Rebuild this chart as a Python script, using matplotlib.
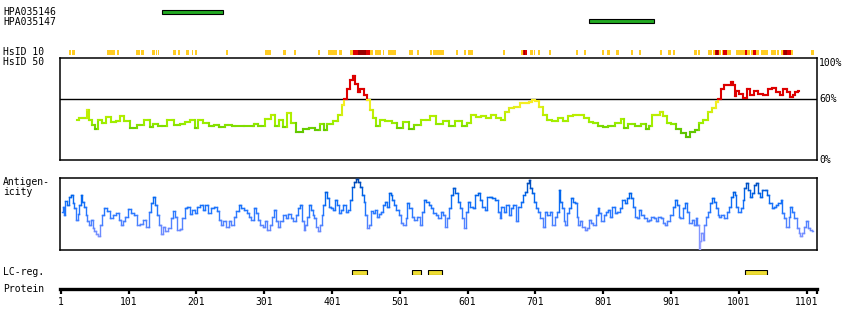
import numpy as np
import matplotlib
matplotlib.use('Agg')
import matplotlib.pyplot as plt
from matplotlib.collections import LineCollection
from matplotlib.colors import LinearSegmentedColormap, Normalize

plt.rcParams['font.family'] = ['DejaVu Sans Mono']
plt.rcParams['font.size'] = 7

# Longitud de la proteína y marcas del eje
largo_proteina = 1116
ticks_proteina = [1, 101, 201, 301, 401, 501, 601, 701, 801, 901, 1001, 1101]

# Anticuerpos (inicio, fin)
anticuerpos = ['HPA035146', 'HPA035147']
ab_inicio = [150, 780]
ab_fin = [240, 876]

# HsID 10: tramos (inicio, fin, nivel) 1 = amarillo, 2 = rojo, 3 = rojo oscuro
hsid10_tramos = [
    (13, 16, 1), (18, 22, 1), (69, 81, 1), (84, 87, 1), (112, 118, 1), (119, 124, 1),
    (136, 140, 1), (141, 143, 1), (144, 146, 1), (167, 171, 1), (174, 177, 1),
    (186, 190, 1), (194, 196, 1), (199, 202, 1), (245, 247, 1), (302, 311, 1),
    (329, 333, 1), (345, 348, 1), (380, 384, 1), (395, 409, 1), (411, 416, 1),
    (428, 432, 1), (432, 440, 2), (440, 451, 3), (451, 457, 2), (457, 462, 1),
    (465, 473, 1), (476, 478, 1), (484, 492, 1), (493, 496, 1), (515, 520, 1),
    (527, 529, 1), (546, 549, 1), (550, 566, 1), (584, 587, 1), (596, 599, 1),
    (601, 609, 1), (653, 656, 1), (679, 682, 1), (682, 684, 2), (684, 686, 3),
    (686, 688, 2), (688, 689, 1), (693, 698, 1), (699, 701, 1), (704, 708, 1),
    (721, 724, 1), (760, 764, 1), (773, 776, 1), (799, 802, 1), (807, 811, 1),
    (819, 824, 1), (842, 845, 1), (854, 857, 1), (884, 887, 1), (897, 901, 1),
    (904, 907, 1), (934, 939, 1), (940, 943, 1), (956, 961, 1), (962, 965, 1),
    (965, 967, 2), (967, 970, 3), (970, 972, 2), (972, 974, 1), (976, 978, 1),
    (978, 983, 2), (983, 989, 1), (996, 1010, 1), (1010, 1013, 2), (1013, 1017, 1),
    (1019, 1022, 1), (1022, 1026, 2), (1026, 1031, 1), (1034, 1044, 1),
    (1048, 1055, 1), (1057, 1060, 1), (1063, 1066, 1), (1066, 1068, 2),
    (1068, 1072, 3), (1072, 1077, 2), (1077, 1080, 1), (1107, 1111, 1),
]
colores_hsid10 = {1: '#ffcc22', 2: '#dd0000', 3: '#990000'}

# HsID 50: identidad (%) a lo largo de la secuencia
hsid50_pos = [25, 32, 39, 40, 42, 44, 51, 53, 59, 64, 71, 79, 86, 91, 98, 108, 118,
              130, 135, 140, 150, 165, 172, 182, 187, 195, 202, 206, 216, 224, 231,
              238, 248, 258, 285, 288, 297, 307, 315, 320, 326, 332, 338, 343, 352,
              364, 371, 381, 387, 390, 398, 408, 413, 418, 420, 425, 430, 434, 437,
              441, 445, 450, 454, 459, 464, 469, 474, 484, 494, 501, 509, 519, 526,
              539, 551, 558, 570, 577, 588, 597, 602, 610, 617, 624, 632, 639, 647,
              654, 659, 666, 674, 681, 689, 693, 698, 703, 708, 716, 720, 730, 738,
              745, 752, 760, 769, 777, 782, 789, 796, 804, 813, 823, 831, 833, 843,
              853, 861, 866, 870, 875, 882, 887, 892, 897, 905, 912, 919, 926, 932,
              939, 944, 951, 959, 964, 969, 972, 976, 981, 986, 991, 993, 996, 998,
              1005, 1010, 1015, 1020, 1027, 1032, 1040, 1047, 1053, 1059, 1064, 1069,
              1074, 1079, 1081, 1086, 1089]
hsid50_val = [39, 41, 41, 49, 49, 39, 34, 30, 39, 36, 42, 37, 38, 43, 38, 31, 34,
              39, 32, 35, 33, 39, 34, 35, 37, 39, 31, 39, 36, 33, 34,
              32, 34, 33, 33, 35, 33, 40, 44, 33, 39, 32, 46, 36, 27,
              30, 31, 29, 35, 29, 35, 38, 44, 54, 60, 70, 78, 82, 75,
              67, 70, 64, 59, 49, 41, 33, 39, 38, 36, 31, 37, 30, 34,
              39, 43, 35, 38, 33, 38, 33, 36, 44, 42, 43, 41, 44, 41,
              39, 47, 51, 52, 56, 56, 57, 59, 58, 52, 44, 39, 38, 41,
              38, 43, 44, 44, 41, 37, 36, 33, 32, 33, 36, 40, 31, 35,
              33, 35, 30, 33, 44, 44, 47, 43, 36, 35, 30, 26, 23, 27,
              29, 36, 39, 47, 51, 57, 60, 70, 74, 74, 76, 74, 63, 68,
              65, 61, 70, 64, 68, 65, 64, 70, 71, 67, 64, 70,
              67, 62, 64, 67, 68]

# Antigenicidad (escala relativa 0-100)
antig_pos = [3, 5, 6, 10, 12, 15, 17, 20, 22, 25, 27, 30, 32, 34, 37, 39, 42, 44, 47,
             49, 52, 55, 58, 60, 64, 67, 71, 75, 80, 85, 88, 91, 95, 98, 102, 106, 111,
             116, 121, 125, 130, 133, 135, 139, 141, 144, 148, 150, 154, 157, 161, 165,
             167, 171, 175, 178, 182, 186, 189, 193, 197, 200, 204, 209, 213, 216, 220,
             224, 229, 233, 236, 239, 243, 247, 251, 254, 258, 262, 265, 269, 273, 277,
             280, 284, 287, 290, 294, 297, 301, 304, 307, 311, 315, 317, 320, 323, 327,
             331, 334, 338, 342, 346, 349, 353, 355, 358, 360, 362, 366, 369, 371, 374,
             376, 378, 382, 385, 387, 389, 392, 395, 398, 401, 404, 407, 411, 413, 415,
             419, 423, 425, 429, 433, 435, 438, 441, 444, 446, 449, 451, 455, 457, 461,
             463, 467, 469, 472, 475, 478, 481, 484, 486, 489, 491, 494, 498, 501, 504,
             508, 511, 513, 517, 521, 524, 528, 532, 535, 538, 542, 545, 549, 552, 556,
             559, 563, 566, 570, 572, 575, 578, 581, 585, 588, 591, 595, 596, 600, 603,
             607, 611, 614, 618, 621, 624, 628, 632, 636, 639, 643, 647, 649, 652, 656,
             660, 664, 667, 670, 674, 677, 681, 683, 687, 690, 692, 694, 698, 700, 703,
             706, 710, 713, 716, 720, 724, 728, 731, 734, 736, 739, 741, 744, 746, 749,
             752, 755, 757, 760, 763, 765, 768, 772, 775, 779, 781, 784, 788, 791, 794,
             796, 800, 803, 806, 810, 813, 816, 820, 823, 827, 831, 834, 837, 841, 843,
             846, 848, 852, 855, 859, 863, 867, 870, 874, 877, 880, 884, 887, 890, 893,
             897, 901, 905, 908, 911, 913, 916, 920, 923, 926, 930, 933, 936, 938, 941,
             943, 945, 946, 949, 951, 954, 957, 960, 963, 966, 968, 971, 973, 977, 981,
             985, 988, 991, 993, 996, 998, 1002, 1005, 1008, 1010, 1013, 1015, 1018,
             1021, 1025, 1027, 1030, 1034, 1037, 1041, 1044, 1047, 1051, 1054, 1057,
             1061, 1064, 1066, 1069, 1073, 1075, 1078, 1081, 1084, 1088, 1090, 1093,
             1096, 1099, 1101, 1104, 1108, 1110]
antig_val = [53, 60, 49, 68, 63, 74, 77, 65, 58, 42, 50, 62, 77, 67, 60, 49, 40, 35, 42,
             30, 26, 22, 20, 35, 49, 58, 54, 45, 49, 52, 42, 35, 40, 46, 57, 51, 49,
             35, 36, 42, 32, 53, 65, 73, 62, 49, 35, 22, 32, 26, 30, 44,
             54, 46, 28, 29, 44, 58, 60, 50, 56, 51, 60, 62, 56, 63, 51,
             59, 60, 54, 42, 35, 40, 32, 40, 35, 46, 54, 62, 58, 56, 51,
             46, 42, 58, 51, 42, 35, 32, 40, 28, 35, 46, 55, 40, 32, 40,
             49, 45, 50, 44, 40, 49, 58, 63, 40, 28, 35, 46, 62, 56, 49,
             44, 32, 26, 35, 49, 62, 81, 72, 60, 58, 56, 69, 62, 51, 56,
             62, 53, 56, 69, 88, 95, 99, 95, 88, 76, 67, 49, 30, 35, 54,
             51, 56, 46, 50, 53, 62, 67, 60, 79, 76, 69, 62, 56, 49, 37,
             35, 44, 65, 58, 46, 42, 46, 35, 53, 69, 67, 62, 58, 51, 49,
             44, 53, 49, 32, 44, 58, 76, 86, 79, 67, 58, 44, 30, 53, 67,
             60, 58, 76, 79, 69, 60, 56, 74, 74, 72, 69, 53, 44, 60, 53,
             62, 49, 58, 62, 40, 60, 67, 76, 81, 93, 97, 86, 79, 67, 58,
             53, 44, 32, 53, 49, 53, 35, 46, 53, 83, 67, 58, 40, 35, 51,
             58, 72, 67, 65, 46, 35, 40, 32, 28, 30, 42, 37, 35, 49, 58,
             51, 40, 49, 53, 56, 46, 60, 51, 53, 58, 69, 65, 72, 79, 72,
             60, 46, 44, 56, 49, 44, 40, 42, 46, 44, 40, 46, 44, 37, 35,
             40, 49, 60, 69, 62, 46, 44, 58, 65, 53, 37, 42, 35, 45, 35,
             0, 12, 23, 14, 35, 46, 53, 65, 72, 67, 58, 49, 46, 49, 44,
             53, 60, 74, 81, 76, 60, 53, 58, 69, 86, 93, 83, 74,
             79, 90, 93, 79, 74, 83, 83, 76, 65, 58, 60, 62,
             65, 69, 51, 44, 32, 46, 60, 53, 44, 30, 23, 19,
             23, 32, 40, 30, 28, 26]

# Regiones de baja complejidad (inicio, fin)
lc_inicio = [431, 519, 543, 1010]
lc_fin = [453, 532, 563, 1043]

fig = plt.figure(figsize=(8.5, 3.3), dpi=100)


def eje(arriba, abajo):
    # crea un eje alineado con la proteína entre dos alturas en píxeles
    ax = fig.add_axes([60 / 850, 1 - abajo / 330, 757 / 850, (abajo - arriba) / 330])
    ax.set_xlim(0, largo_proteina)
    return ax


def sin_marco(ax):
    for s in ax.spines.values():
        s.set_visible(False)
    ax.set_xticks([])
    ax.set_yticks([])


def linea_escalones(ax, x, y, cmap, norm, lw):
    # línea en escalones (tipo steps-mid) coloreada según el valor
    segs, vals = [], []
    for i in range(len(x) - 1):
        xm = (x[i] + x[i + 1]) / 2
        segs += [[(x[i], y[i]), (xm, y[i])],
                 [(xm, y[i]), (xm, y[i + 1])],
                 [(xm, y[i + 1]), (x[i + 1], y[i + 1])]]
        vals += [y[i], (y[i] + y[i + 1]) / 2, y[i + 1]]
    lc = LineCollection(segs, colors=cmap(norm(np.array(vals))), linewidths=lw,
                        capstyle='projecting', zorder=3)
    ax.add_collection(lc)


# Anticuerpos
ax_ab = eje(7.5, 25.5)
ax_ab.set_ylim(1.5, -0.5)
ax_ab.barh(range(len(anticuerpos)), np.array(ab_fin) - np.array(ab_inicio), left=ab_inicio,
           height=0.45, color='#22aa22', edgecolor='black', linewidth=0.8)
sin_marco(ax_ab)

# HsID 10
ax_h10 = eje(50, 55)
ax_h10.set_ylim(0, 1)
for ini, fin, nivel in hsid10_tramos:
    ax_h10.broken_barh([(ini, fin - ini)], (0, 1), facecolors=colores_hsid10[nivel])
sin_marco(ax_h10)

# HsID 50
ax_h50 = eje(58, 160)
ax_h50.set_ylim(0, 100)
ax_h50.axhline(60, color='black', lw=1, zorder=2)
verdes = LinearSegmentedColormap.from_list('hsid', [
    (0.0, '#55bb00'), (0.25, '#66cc00'), (0.4, '#99ee00'), (0.6, '#bbee00'),
    (0.85, '#eeee22'), (0.999, '#ffee22'), (1.0, '#dd0000')])
linea_escalones(ax_h50, hsid50_pos, hsid50_val, verdes, Normalize(20, 60, clip=True), 1.5)
ax_h50.set_xticks([])
ax_h50.set_yticks([])
for s in ax_h50.spines.values():
    s.set_linewidth(1.1)
yt = ax_h50.get_yaxis_transform()
ax_h50.text(1.003, 100, '100%', transform=yt, va='top', ha='left')
ax_h50.text(1.003, 60, '60%', transform=yt, va='center', ha='left')
ax_h50.text(1.003, 0, '0%', transform=yt, va='center', ha='left')

# Antigenicidad
ax_ag = eje(178, 250)
ax_ag.set_ylim(0, 100)
azules = LinearSegmentedColormap.from_list('antig', [
    (0.0, '#aaaaff'), (0.3, '#6688ff'), (0.55, '#2277ff'), (0.75, '#0066ee'), (1.0, '#0044aa')])
linea_escalones(ax_ag, antig_pos, antig_val, azules, Normalize(0, 100), 1.0)
ax_ag.set_xticks([])
ax_ag.set_yticks([])
for s in ax_ag.spines.values():
    s.set_linewidth(1.1)

# Regiones LC
ax_lc = eje(270, 275)
ax_lc.set_ylim(0, 1)
ax_lc.barh([0.5] * len(lc_inicio), np.array(lc_fin) - np.array(lc_inicio), left=lc_inicio,
           height=0.85, color='#eedd33', edgecolor='black', linewidth=0.8)
sin_marco(ax_lc)

# Eje de la proteína
ax_p = eje(286, 289)
for lado in ['top', 'left', 'right']:
    ax_p.spines[lado].set_visible(False)
ax_p.spines['bottom'].set_linewidth(2.4)
ax_p.set_yticks([])
ax_p.set_xticks(ticks_proteina)
ax_p.set_xticks([largo_proteina], minor=True)
ax_p.tick_params(axis='x', which='both', length=3.5, width=1.6, pad=2, labelsize=7)
ax_p.set_xlim(0, largo_proteina)

# Etiquetas a la izquierda
etiquetas = [('HPA035146', 12), ('HPA035147', 22), ('HsID 10', 52), ('HsID 50', 62),
             ('Antigen-', 182), ('icity', 192), ('LC-reg.', 272), ('Protein', 289)]
for texto, ypx in etiquetas:
    fig.text(3 / 850, 1 - ypx / 330, texto, ha='left', va='center', fontsize=7)

fig.savefig('out.png', dpi=100)
